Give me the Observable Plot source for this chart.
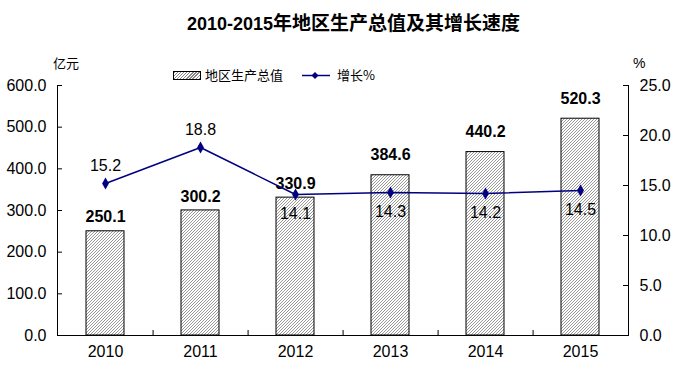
<!DOCTYPE html>
<html>
<head>
<meta charset="utf-8">
<script src="https://cdn.jsdelivr.net/npm/d3@7"></script>
<script src="https://cdn.jsdelivr.net/npm/@observablehq/plot@0.6"></script>
<style>
  body { margin: 0; background: #fff; }
  #wrap { position: relative; width: 677px; height: 373px; font-family: "Liberation Sans", Arial, "Noto Sans CJK SC", sans-serif; color: #000; }
  #title { position: absolute; left: 187px; top: 12px; font-size: 18px; font-weight: bold; line-height: 20px; white-space: nowrap; font-family: "Liberation Sans", Arial, "Noto Sans CJK SC", sans-serif; }
  #title .zh { font-size: 19px; font-family: "Noto Sans CJK SC", sans-serif; }
  #chart { position: absolute; left: 0; top: 44px; }
  .lg { position: absolute; font-size: 13px; line-height: 14px; white-space: nowrap; font-family: "Noto Sans CJK SC", sans-serif; }
  .unit { position: absolute; font-size: 13px; line-height: 14px; white-space: nowrap; font-family: "Noto Sans CJK SC", sans-serif; }
  #sw { position: absolute; left: 173px; top: 71px; width: 26px; height: 7px; border: 1px solid #000;
        background: repeating-linear-gradient(135deg, #8a8a8a 0 1px, #fff 1px 2.2px); }
</style>
</head>
<body>
<svg width="0" height="0" style="position:absolute">
  <defs>
    <pattern id="hatch" patternUnits="userSpaceOnUse" width="3" height="3">
      <rect width="3" height="3" fill="#fff"></rect>
      <path d="M-1,1 l2,-2 M0,3 l3,-3 M2,4 l2,-2" stroke="#8c8c8c" stroke-width="0.9"></path>
    </pattern>
  </defs>
</svg>
<div id="wrap">
  <div id="title">2010-2015<span class="zh">年地区生产总值及其增长速度</span></div>
  <div id="chart"></div>
  <div id="sw"></div>
  <div class="lg" style="left:205px; top:68px;">地区生产总值</div>
  <svg style="position:absolute; left:300px; top:70px;" width="32" height="12">
    <line x1="2" y1="5.5" x2="30" y2="5.5" stroke="#000080" stroke-width="1.5"></line>
    <path d="M15,2 L18.5,5.5 L15,9 L11.5,5.5 Z" fill="#000080"></path>
  </svg>
  <div class="lg" style="left:337px; top:68px;">增长%</div>
  <div class="unit" style="left:53px; top:56px;">亿元</div>
  <div class="unit" style="left:633px; top:56px; font-family:'Liberation Sans', Arial, sans-serif; font-size:14px;">%</div>
</div>
<script>
const years = ["2010", "2011", "2012", "2013", "2014", "2015"];
const gdp = [250.1, 300.2, 330.9, 384.6, 440.2, 520.3];
const growth = [15.2, 18.8, 14.1, 14.3, 14.2, 14.5];
const leftTicks = [0, 100, 200, 300, 400, 500, 600];
const rightTicks = [0, 5, 10, 15, 20, 25];

const ratio = 600 / 25;
const data = years.map((y, i) => ({year: y, gdp: gdp[i], growth: growth[i], idx: i}));

const W = 677, H = 329, mL = 57, mR = 49, mT = 41, mB = 38;
const frameW = W - mL - mR;
const step = frameW / years.length;

const chart = Plot.plot({
  width: W, height: H,
  marginTop: mT, marginBottom: mB, marginLeft: mL, marginRight: mR,
  style: {fontFamily: "'Liberation Sans', Arial, sans-serif", fontSize: "16px", color: "#000", background: "#fff"},
  x: {type: "band", domain: years, paddingInner: 0.6, paddingOuter: 0.3},
  y: {domain: [0, 600]},
  marks: [
    Plot.barY(data, {x: "year", y: "gdp", fill: "url(#hatch)", stroke: "#000", strokeWidth: 1}),
    Plot.frame({anchor: "left", stroke: "#000"}),
    Plot.frame({anchor: "right", stroke: "#000"}),
    Plot.frame({anchor: "bottom", stroke: "#000"}),
    Plot.ruleY(leftTicks, {y: d => d, insetRight: frameW - 5, stroke: "#000"}),
    Plot.ruleY(rightTicks.map(v => v * ratio), {y: d => d, insetLeft: frameW - 5, stroke: "#000"}),
    Plot.ruleX(years.slice(0, years.length - 1), {x: d => d, dx: step / 2, y1: 0, y2: 12, stroke: "#000"}),
    Plot.axisY(leftTicks, {anchor: "left", tickSize: 0, tickPadding: 11, tickFormat: d => d.toFixed(1), label: null, fontSize: 16}),
    Plot.axisY(rightTicks.map(v => v * ratio), {anchor: "right", tickSize: 0, tickPadding: 11, tickFormat: d => (d / ratio).toFixed(1), label: null, fontSize: 16}),
    Plot.axisX(years, {anchor: "bottom", tickSize: 0, tickPadding: 10, label: null, fontSize: 16}),
    Plot.text(data.filter(d => d.idx < 3), {x: "year", y: "gdp", text: d => d.gdp.toFixed(1), dy: -14, fontWeight: "bold", fontSize: 16}),
    Plot.text(data.filter(d => d.idx >= 3), {x: "year", y: "gdp", text: d => d.gdp.toFixed(1), dy: -20, fontWeight: "bold", fontSize: 16}),
    Plot.line(data, {x: "year", y: d => d.growth * ratio, stroke: "#000080", strokeWidth: 1.5}),
    Plot.dot(data, {x: "year", y: d => d.growth * ratio, symbol: "diamond", r: 3.6, fill: "#000080", stroke: "none"}),
    Plot.text(data.filter(d => d.idx < 2), {x: "year", y: d => d.growth * ratio, text: d => d.growth.toFixed(1), dy: -18, fontSize: 16}),
    Plot.text(data.filter(d => d.idx >= 2), {x: "year", y: d => d.growth * ratio, text: d => d.growth.toFixed(1), dy: 19, fontSize: 16})
  ]
});
document.getElementById("chart").appendChild(chart);
</script>
</body>
</html>
